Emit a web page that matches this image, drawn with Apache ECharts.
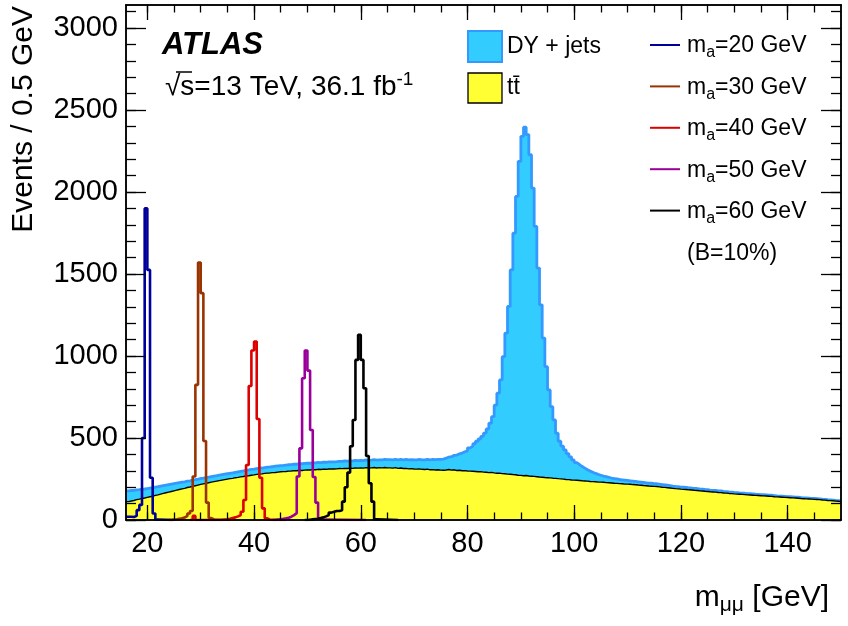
<!DOCTYPE html>
<html><head><meta charset="utf-8">
<script src="https://cdn.jsdelivr.net/npm/echarts@6/dist/echarts.min.js"></script>
<style>html,body{margin:0;padding:0;background:#fff}#c{width:848px;height:626px}</style>
</head><body><div id="c"></div>
<script>
// ---------------- data ----------------
const binWidth = 0.5;
const bgStart = 16.0;            // first bin low edge [GeV]
const xMin = 16, xMax = 150;
const yMin = 0, yMax = 3140;

// t tbar background, events per 0.5 GeV bin, 16.0 ... 149.5
const ttbar = [
 112,116,119,124,127,131,134,138,
 142,145,150,153,158,162,166,170,174,178,
 182,186,190,193,198,201,205,209,213,217,
 220,223,227,231,234,237,240,243,246,249,
 252,254,258,260,263,265,268,270,273,275,
 278,280,281,284,286,287,289,290,292,294,
 295,296,298,299,301,300,303,302,304,305,
 305,307,306,309,308,310,309,311,312,311,
 312,314,313,315,314,316,315,317,316,318,
 316,319,317,318,320,317,319,318,320,318,
 318,316,319,315,317,314,315,312,313,311,
 310,312,309,308,310,306,307,305,306,304,
 303,305,308,304,306,302,303,300,301,299,
 298,297,296,294,295,292,291,289,290,287,
 285,286,283,282,280,279,277,276,273,272,
 270,271,268,267,266,264,262,261,259,258,
 257,255,254,252,251,249,247,246,244,243,
 242,241,239,238,237,235,234,233,231,231,
 230,228,227,226,224,223,222,221,219,219,
 218,216,215,213,212,210,209,207,206,205,
 204,202,200,199,197,195,193,191,190,188,
 187,186,184,183,181,180,178,177,175,174,
 172,171,170,168,167,165,164,162,161,159,
 158,157,156,155,153,152,151,150,149,148,
 147,146,145,144,142,141,140,139,138,137,
 136,135,134,133,131,130,129,128,127,126,
 125,124,122,121,119,118,117,115,114,112
];

// DY + jets background (stacked on ttbar), events per 0.5 GeV bin, 16.0 ... 149.5
const dyJets = [
 66,64,62,60,58,57,55,54,
 53,52,51,50,49,48,47,46,45,44,
 43,42,41,40,39,38,38,37,36,36,
 35,35,34,34,34,33,33,33,33,33,
 33,33,33,34,34,34,35,35,35,35,
 35,36,36,36,37,37,37,38,38,38,
 38,39,39,39,40,40,40,41,41,41,
 41,42,42,42,42,43,43,43,43,44,
 44,44,44,45,45,45,45,46,46,46,
 46,47,47,47,48,48,48,49,49,50,
 50,51,51,52,52,53,54,54,55,56,
 57,57,58,59,60,61,62,63,64,66,
 68,72,76,82,88,94,100,108,115,122,
 142,153,169,186,200,218,239,266,300,343,
 415,487,571,714,859,1023,1248,1473,1700,1915,
 2069,2124,2082,1960,1758,1526,1274,1051,850,677,
 536,436,356,277,229,201,180,159,141,123,
 108,97,87,78,69,63,57,51,47,42,
 38,36,33,30,29,27,25,24,24,22,
 21,21,20,20,19,19,18,18,18,17,
 17,16,16,15,15,15,14,14,14,13,
 13,13,12,12,12,12,11,11,11,11,
 10,10,10,10,10,9,9,9,9,9,
 9,8,8,8,8,8,8,7,7,7,
 7,7,7,7,7,6,6,6,6,6,
 6,6,6,6,6,5,5,5,5,5,
 5,5,5,5,5,5,4,4,4,4
];

// signals (B=10%), events per 0.5 GeV bin starting at the given low edge
const sig20Start = 16.0;
const sig20 = [20,20,18,25,60,92,500,1900,1525,258,40,3];
const sig30Start = 24.5;
const sig30 = [3,5,8,10,15,25,40,55,265,824,1570,1383,482,106,12,3];
const sig40Start = 28.5;
const sig40 = [25,0,0,0,0,0,0,0,0,0,0,3,5,8,12,16,22,30,50,122,335,817,1033,1088,616,258,71,10,2];
const sig50Start = 44.0;
const sig50 = [3,5,7,10,14,20,30,42,265,437,864,1033,911,549,262,106,8,2];
const sig60Start = 50.0;
const sig60 = [2,4,6,8,12,16,22,30,45,50,55,55,60,112,200,289,450,610,976,1129,976,803,390,224,112,5];

const signalNames = ['m_a=20 GeV','m_a=30 GeV','m_a=40 GeV','m_a=50 GeV','m_a=60 GeV'];
const signalMassLabels = ['20','30','40','50','60'];
const bgNames = ['DY + jets', 'ttbar'];

const xMajorTicks = [20,40,60,80,100,120,140];
const xMinorTicks = [20,25,30,35,40,45,50,55,60,65,70,75,80,85,90,95,100,105,110,115,120,125,130,135,140,145];
const yMajorTicks = [0,500,1000,1500,2000,2500,3000];
const yMinorTicks = [0,100,200,300,400,500,600,700,800,900,1000,1100,1200,1300,1400,1500,1600,1700,1800,1900,2000,2100,2200,2300,2400,2500,2600,2700,2800,2900,3000,3100];

// ---------------- helpers ----------------
function histPoints(start, vals, padLo, padHi) {
  const pts = [];
  if (padLo) pts.push([start - binWidth, 0]);
  vals.forEach((v, i) => pts.push([start + i * binWidth, v]));
  const end = start + vals.length * binWidth;
  if (padHi) { pts.push([end, 0]); pts.push([end + padHi, 0]); }
  else pts.push([end, vals[vals.length - 1]]);
  return pts;
}
// stack top = ttbar + DY (stack built here, drawn through the axes)
const stackTop = ttbar.map((v, i) => v + dyJets[i]);

const FONT = '"Liberation Sans", Arial, Helvetica, sans-serif';
const sigColors = ['#000099', '#993300', '#dd0000', '#990099', '#000000'];
const sigData = [
  histPoints(sig20Start, sig20, false, 3),
  histPoints(sig30Start, sig30, true, 3),
  histPoints(sig40Start, sig40, true, 3),
  histPoints(sig50Start, sig50, true, 8),
  histPoints(sig60Start, sig60, true, 4)
];

const plainNum = v => String(v);
function xAxisDef(pos, ticks, len, labels) {
  return {
    type: 'value', position: pos, min: xMin, max: xMax, z: 10,
    axisLine: { show: true, onZero: false, lineStyle: { color: '#000', width: 1.5 } },
    axisTick: { show: true, inside: true, length: len, customValues: ticks, lineStyle: { color: '#000', width: 1.3 } },
    axisLabel: labels ? { show: true, customValues: xMajorTicks, formatter: plainNum, fontSize: 29, fontFamily: FONT, color: '#000', margin: 9 } : { show: false },
    splitLine: { show: false }, minorTick: { show: false }, axisPointer: { show: false }
  };
}
function yAxisDef(pos, ticks, len, labels) {
  return {
    type: 'value', position: pos, min: yMin, max: yMax, z: 10,
    axisLine: { show: true, onZero: false, lineStyle: { color: '#000', width: 1.5 } },
    axisTick: { show: true, inside: true, length: len, customValues: ticks, lineStyle: { color: '#000', width: 1.3 } },
    axisLabel: labels ? { show: true, customValues: yMajorTicks, formatter: plainNum, fontSize: 29, fontFamily: FONT, color: '#000', margin: 8 } : { show: false },
    splitLine: { show: false }, minorTick: { show: false }
  };
}

const series = [
  {
    type: 'line', name: bgNames[0], data: histPoints(bgStart, stackTop, false, 0), step: 'end',
    symbol: 'none', z: 2, silent: true, animation: false,
    lineStyle: { color: '#3399ff', width: 2.8 },
    areaStyle: { color: '#33ccff', opacity: 1, origin: 'start' }
  },
  {
    type: 'line', name: bgNames[1], data: histPoints(bgStart, ttbar, false, 0), step: 'end',
    symbol: 'none', z: 3, silent: true, animation: false,
    lineStyle: { color: '#000', width: 1.4 },
    areaStyle: { color: '#ffff33', opacity: 1, origin: 'start' }
  }
];
sigData.forEach((d, i) => series.push({
  type: 'line', name: signalNames[i], data: d, step: 'end', symbol: 'none', z: 4,
  silent: true, animation: false, lineStyle: { color: sigColors[i], width: 2.6 }
}));

// ---------------- legend & texts (graphic) ----------------
const legRich = {
  m: { fontSize: 23, fontFamily: FONT, lineHeight: 30, fill: '#000' },
  s: { fontSize: 16, fontFamily: FONT, lineHeight: 16, verticalAlign: 'bottom', fill: '#000' }
};
const graphics = [
  { type: 'text', x: 162, y: 45, style: { text: 'ATLAS', font: 'italic bold 31px ' + FONT, fill: '#000', verticalAlign: 'middle', textVerticalAlign: 'middle' } },
  { type: 'text', x: 165, y: 87, style: {
      text: '{m|√s=13 TeV, 36.1 fb}{u|-1}', fill: '#000', verticalAlign: 'middle', textVerticalAlign: 'middle',
      rich: { m: { fontSize: 28, fontFamily: FONT, lineHeight: 34 }, u: { fontSize: 19, fontFamily: FONT, lineHeight: 22, verticalAlign: 'top' } } } },
  { type: 'line', shape: { x1: 176, y1: 72, x2: 192, y2: 72 }, style: { stroke: '#000', lineWidth: 1.5 } },
  // background legend
  { type: 'rect', shape: { x: 468, y: 31, width: 34, height: 31 }, style: { fill: '#33ccff', stroke: '#3399ff', lineWidth: 2 } },
  { type: 'text', x: 507, y: 47, style: { text: bgNames[0], font: '23px ' + FONT, fill: '#000', verticalAlign: 'middle', textVerticalAlign: 'middle' } },
  { type: 'rect', shape: { x: 468, y: 73, width: 34, height: 30 }, style: { fill: '#ffff33', stroke: '#000', lineWidth: 1.3 } },
  { type: 'text', x: 507, y: 88, style: { text: 'tt\u0304', font: '23px ' + FONT, fill: '#000', verticalAlign: 'middle', textVerticalAlign: 'middle' } },
  { type: 'text', x: 687, y: 254, style: { text: '(B=10%)', font: '23px ' + FONT, fill: '#000', verticalAlign: 'middle', textVerticalAlign: 'middle' } },
  // axis titles
  { type: 'text', x: 24, y: 6, rotation: Math.PI / 2, style: { text: 'Events / 0.5 GeV', font: '30px ' + FONT, fill: '#000', align: 'right', textAlign: 'right', verticalAlign: 'middle', textVerticalAlign: 'middle' } },
  { type: 'text', x: 829, y: 598, style: {
      text: '{m|m}{s|μμ}{m| [GeV]}', fill: '#000', align: 'right', textAlign: 'right', verticalAlign: 'middle', textVerticalAlign: 'middle',
      rich: { m: { fontSize: 30, fontFamily: FONT, lineHeight: 36 }, s: { fontSize: 21, fontFamily: FONT, lineHeight: 18, verticalAlign: 'bottom' } } } }
];
signalMassLabels.forEach((lab, i) => {
  const y = 45 + i * 41.4;
  graphics.push({ type: 'line', shape: { x1: 650, y1: y, x2: 680, y2: y }, style: { stroke: sigColors[i], lineWidth: 2 } });
  graphics.push({ type: 'text', x: 687, y: y + 1, style: { text: '{m|m}{s|a}{m|=' + lab + ' GeV}', rich: legRich, verticalAlign: 'middle', textVerticalAlign: 'middle' } });
});

const chart = echarts.init(document.getElementById('c'), null, { renderer: 'canvas' });
chart.setOption({
  animation: false,
  backgroundColor: '#fff',
  grid: { left: 126, right: 7, top: 5, bottom: 106, containLabel: false, outerBoundsMode: 'none' },
  xAxis: [
    xAxisDef('bottom', xMajorTicks, 15, true),
    xAxisDef('bottom', xMinorTicks, 7.5, false),
    xAxisDef('top', xMajorTicks, 15, false),
    xAxisDef('top', xMinorTicks, 7.5, false)
  ],
  yAxis: [
    yAxisDef('left', yMajorTicks, 20, true),
    yAxisDef('left', yMinorTicks, 10, false),
    yAxisDef('right', yMajorTicks, 20, false),
    yAxisDef('right', yMinorTicks, 10, false)
  ],
  series: series,
  graphic: { elements: graphics }
});
</script>
</body></html>
